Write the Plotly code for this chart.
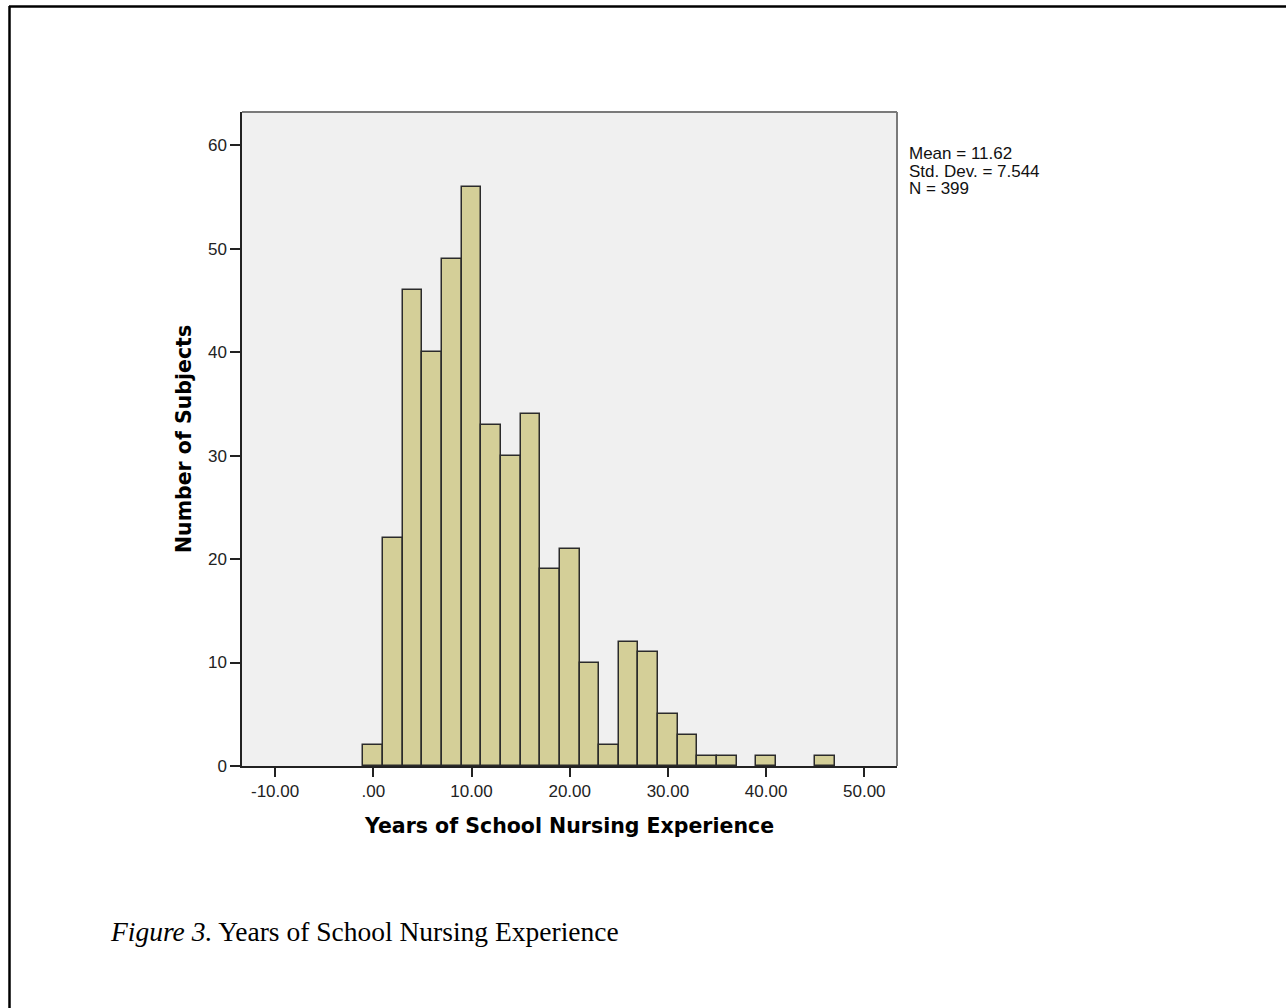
import plotly.graph_objects as go

# Data: histogram bins (width 2, centered on even years) and counts
bin_centers = [0, 2, 4, 6, 8, 10, 12, 14, 16, 18, 20, 22, 24, 26, 28, 30, 32, 34, 36, 38, 40, 42, 44, 46]
counts = [2, 22, 46, 40, 49, 56, 33, 30, 34, 19, 21, 10, 2, 12, 11, 5, 3, 1, 1, 0, 1, 0, 0, 1]
bin_width = 2

x_tick_vals = [-10, 0, 10, 20, 30, 40, 50]
x_tick_text = ["-10.00", ".00", "10.00", "20.00", "30.00", "40.00", "50.00"]
y_tick_vals = [0, 10, 20, 30, 40, 50, 60]
y_tick_text = ["0", "10", "20", "30", "40", "50", "60"]

stats_lines = ["Mean = 11.62", "Std. Dev. = 7.544", "N = 399"]
x_title = "Years of School Nursing Experience"
y_title = "Number of Subjects"

W, H = 1286, 1008
L, R, T, B = 242, 897, 112, 766  # plot area in pixels


def px(xp):
    return (xp - L) / (R - L)


def py(yp):
    return (B - yp) / (B - T)


fig = go.Figure()
fig.add_trace(go.Bar(
    x=bin_centers, y=counts, width=[bin_width] * len(bin_centers),
    marker=dict(color="#d4cf98",
                line=dict(color="#2b2b2b", width=[1.5 if c > 0 else 0 for c in counts])),
    showlegend=False, hoverinfo="x+y",
))

tick_font = dict(family="Liberation Sans, Arial, sans-serif", size=17, color="#222222")
title_font = dict(family="DejaVu Sans, Verdana, sans-serif", size=20.5, color="#000000")

fig.update_layout(
    width=W, height=H,
    margin=dict(l=L, r=W - R, t=T, b=H - B, pad=0),
    paper_bgcolor="white",
    plot_bgcolor="#f0f0f0",
    bargap=0,
    xaxis=dict(
        range=[-13.37, 53.33], tickmode="array", tickvals=x_tick_vals, ticktext=x_tick_text,
        ticks="outside", ticklen=9, tickwidth=1.5, tickcolor="#222",
        showgrid=False, zeroline=False, showline=True, linecolor="#222", linewidth=1.5,
        tickfont=tick_font,
        title=dict(text="<b>" + x_title + "</b>", font=title_font, standoff=18),
    ),
    yaxis=dict(
        range=[0, 63.2], tickmode="array", tickvals=y_tick_vals, ticktext=y_tick_text,
        ticks="outside", ticklen=10, tickwidth=1.5, tickcolor="#222",
        showgrid=False, zeroline=False, showline=True, linecolor="#222", linewidth=1.5,
        tickfont=tick_font,
        title=dict(text="<b>" + y_title + "</b>", font=title_font, standoff=11),
    ),
)

# gray top and right frame edges
fig.add_shape(type="line", xref="paper", yref="paper", x0=0, y0=1, x1=1, y1=1,
              line=dict(color="#7a7a7a", width=2))
fig.add_shape(type="line", xref="paper", yref="paper", x0=1, y0=0, x1=1, y1=1,
              line=dict(color="#7a7a7a", width=2))

# page border (top and left)
fig.add_shape(type="line", xref="paper", yref="paper", x0=px(9), y0=py(6.5), x1=px(1290), y1=py(6.5),
              line=dict(color="black", width=2.5))
fig.add_shape(type="line", xref="paper", yref="paper", x0=px(9.5), y0=py(6), x1=px(9.5), y1=py(1012),
              line=dict(color="black", width=2.5))

# stats text
for i, line in enumerate(stats_lines):
    fig.add_annotation(
        xref="paper", yref="paper", x=px(907), y=py(154 + 17.3 * i),
        xanchor="left", yanchor="middle", showarrow=False, text=line,
        font=dict(family="Liberation Sans, Arial, sans-serif", size=17, color="#111"),
    )

# caption
fig.add_annotation(
    xref="paper", yref="paper", x=px(108), y=py(932), xanchor="left", yanchor="middle",
    showarrow=False, text="<i>Figure 3.</i> Years of School Nursing Experience",
    font=dict(family="Liberation Serif, Times New Roman, serif", size=27.5, color="black"),
)

fig.write_html("out.html", config={"displayModeBar": False},
               post_script="document.body.style.margin='0';")
